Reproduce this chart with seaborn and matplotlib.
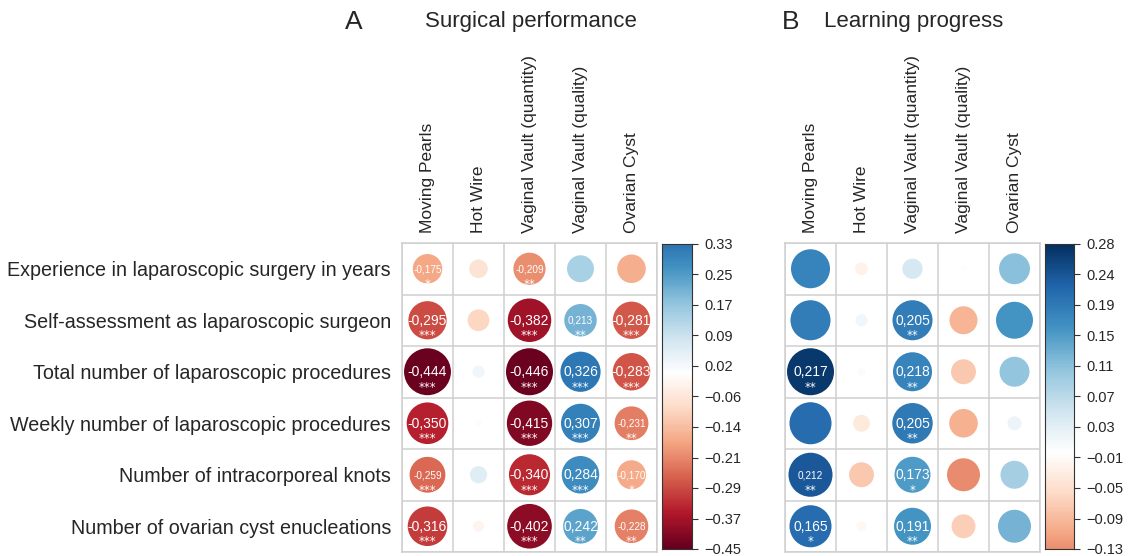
import numpy as np
import pandas as pd
import matplotlib
matplotlib.use("Agg")
import matplotlib.pyplot as plt
from matplotlib.colors import LinearSegmentedColormap, Normalize
import seaborn as sns

# ---------------------------------------------------------------------------
# Data
# ---------------------------------------------------------------------------
row_labels = [
    "Experience in laparoscopic surgery in years",
    "Self-assessment as laparoscopic surgeon",
    "Total number of laparoscopic procedures",
    "Weekly number of laparoscopic procedures",
    "Number of intracorporeal knots",
    "Number of ovarian cyst enucleations",
]
col_labels = ["Moving Pearls", "Hot Wire", "Vaginal Vault (quantity)",
              "Vaginal Vault (quality)", "Ovarian Cyst"]

# circle values (colour + area), panel A
perf_values = [
    [-0.175, -0.070, -0.209, 0.147, -0.165],
    [-0.295, -0.095, -0.382, 0.213, -0.281],
    [-0.444, 0.030, -0.446, 0.326, -0.283],
    [-0.350, -0.008, -0.415, 0.307, -0.231],
    [-0.259, 0.060, -0.340, 0.284, -0.170],
    [-0.316, -0.025, -0.402, 0.242, -0.228],
]
perf_text = [
    ["-0,175", "", "-0,209", "", ""],
    ["-0,295", "", "-0,382", "0,213", "-0,281"],
    ["-0,444", "", "-0,446", "0,326", "-0,283"],
    ["-0,350", "", "-0,415", "0,307", "-0,231"],
    ["-0,259", "", "-0,340", "0,284", "-0,170"],
    ["-0,316", "", "-0,402", "0,242", "-0,228"],
]
perf_stars = [
    ["*", "", "**", "", ""],
    ["***", "", "***", "**", "***"],
    ["***", "", "***", "***", "***"],
    ["***", "", "***", "***", "**"],
    ["***", "", "***", "***", "*"],
    ["***", "", "***", "**", "**"],
]

# circle values, panel B
learn_values = [
    [0.186, -0.020, 0.050, 0.003, 0.117],
    [0.196, 0.018, 0.196, -0.096, 0.167],
    [0.270, 0.008, 0.186, -0.076, 0.110],
    [0.216, -0.035, 0.200, -0.100, 0.024],
    [0.237, -0.076, 0.158, -0.133, 0.096],
    [0.216, -0.012, 0.167, -0.070, 0.133],
]
learn_text = [
    ["", "", "", "", ""],
    ["", "", "0,205", "", ""],
    ["0,217", "", "0,218", "", ""],
    ["", "", "0,205", "", ""],
    ["0,212", "", "0,173", "", ""],
    ["0,165", "", "0,191", "", ""],
]
learn_stars = [
    ["", "", "", "", ""],
    ["", "", "**", "", ""],
    ["**", "", "**", "", ""],
    ["", "", "**", "", ""],
    ["**", "", "*", "", ""],
    ["*", "", "**", "", ""],
]

perf_cbar_labels = ["0.33", "0.25", "0.17", "0.09", "0.02", "\u22120.06", "\u22120.14",
                    "\u22120.21", "\u22120.29", "\u22120.37", "\u22120.45"]
learn_cbar_labels = ["0.28", "0.24", "0.19", "0.15", "0.11", "0.07", "0.03",
                     "\u22120.01", "\u22120.05", "\u22120.09", "\u22120.13"]

# ---------------------------------------------------------------------------
# Style
# ---------------------------------------------------------------------------
sns.set_style("white")
plt.rcParams["font.family"] = ["Liberation Sans", "DejaVu Sans"]

corr_cols = ["#67001F", "#B2182B", "#D6604D", "#F4A582", "#FDDBC7", "#FFFFFF",
             "#D1E5F0", "#92C5DE", "#4393C3", "#2166AC", "#053061"]
cmap = LinearSegmentedColormap.from_list("corrRdBu", corr_cols, N=256)
GRID = "#cfcfcf"
DPI = 100
MAX_S = (47 * 72 / DPI) ** 2   # biggest circle, points^2

# labels drawn smaller in the original
small_perf = {(0, 0), (0, 2), (1, 3), (4, 0), (3, 4), (4, 4), (5, 4)}
small_learn = {(4, 0)}


def corr_panel(ax, values, text, stars, small, show_rows):
    vals = np.asarray(values)
    nr, nc = vals.shape
    df = pd.DataFrame({
        "x": np.tile(np.arange(nc), nr),
        "y": np.repeat(np.arange(nr), nc),
        "v": vals.ravel(),
    })
    df["a"] = df["v"].abs()
    vmax = df["a"].max()
    m = max(abs(vals.min()), abs(vals.max()))
    lim = 0.45 if m > 0.3 else 0.28
    sns.scatterplot(data=df, x="x", y="y", hue="v", size="a",
                    palette=cmap, hue_norm=Normalize(-lim, lim),
                    sizes=(0, MAX_S), size_norm=(0, vmax),
                    linewidth=0, legend=False, ax=ax, zorder=3)
    for i in range(nr):
        for j in range(nc):
            if text[i][j]:
                fs = 7.2 if (i, j) in small else 10
                ax.text(j, i + 0.01, text[i][j], color="white", fontsize=fs,
                        ha="center", va="center", zorder=4)
                ax.text(j, i + 0.30, stars[i][j], color="white", fontsize=8.5,
                        ha="center", va="center", zorder=4,
                        family="DejaVu Sans")
    for k in range(nc + 1):
        ax.axvline(k - 0.5, color=GRID, lw=1.1, zorder=1)
    for k in range(nr + 1):
        ax.axhline(k - 0.5, color=GRID, lw=1.1, zorder=1)
    ax.set_xlim(-0.5, nc - 0.5)
    ax.set_ylim(nr - 0.5, -0.5)
    ax.set_xlabel("")
    ax.set_ylabel("")
    ax.xaxis.tick_top()
    ax.set_xticks(range(nc))
    ax.set_xticklabels(col_labels, rotation=90, fontsize=12.5)
    ax.tick_params(axis="x", length=0, pad=7)
    ax.set_yticks(range(nr))
    if show_rows:
        ax.set_yticklabels(row_labels, fontsize=14.2)
        ax.tick_params(axis="y", length=0, pad=8)
    else:
        ax.set_yticklabels([])
        ax.tick_params(axis="y", length=0)
    for s in ax.spines.values():
        s.set_color(GRID)
        s.set_linewidth(1.1)


def colorbar(cax, lo, hi, lim, labels):
    grad = np.linspace(hi, lo, 256)[:, None]
    cax.imshow(grad, aspect="auto", cmap=cmap, norm=Normalize(-lim, lim),
               extent=[0, 1, lo, hi])
    cax.set_xticks([])
    cax.set_yticks(np.linspace(hi, lo, len(labels)))
    cax.set_yticklabels(labels, fontsize=10.5)
    cax.yaxis.tick_right()
    cax.tick_params(axis="y", length=4, width=0.8, color="#333333", pad=5)
    for s in cax.spines.values():
        s.set_color("#333333")
        s.set_linewidth(0.8)


fig = plt.figure(figsize=(11.28, 5.56), dpi=DPI)
W, H = 1128, 556


def box(x0, y0, x1, y1):
    return [x0 / W, 1 - y1 / H, (x1 - x0) / W, (y1 - y0) / H]


ax_a = fig.add_axes(box(402, 243, 657, 552))
ax_b = fig.add_axes(box(785, 243, 1040, 552))
cax_a = fig.add_axes(box(662, 244, 692, 549))
cax_b = fig.add_axes(box(1045, 244, 1074, 549))

corr_panel(ax_a, perf_values, perf_text, perf_stars, small_perf, True)
corr_panel(ax_b, learn_values, learn_text, learn_stars, small_learn, False)
colorbar(cax_a, -0.45, 0.33, 0.45, perf_cbar_labels)
colorbar(cax_b, -0.13, 0.28, 0.28, learn_cbar_labels)

fig.text(354 / W, 1 - 22 / H, "A", fontsize=19, ha="center", va="center")
fig.text(425 / W, 1 - 22 / H, "Surgical performance", fontsize=16, ha="left", va="center")
fig.text(791 / W, 1 - 22 / H, "B", fontsize=19, ha="center", va="center")
fig.text(824 / W, 1 - 22 / H, "Learning progress", fontsize=16, ha="left", va="center")

fig.savefig("out.png", dpi=DPI, facecolor="white")
